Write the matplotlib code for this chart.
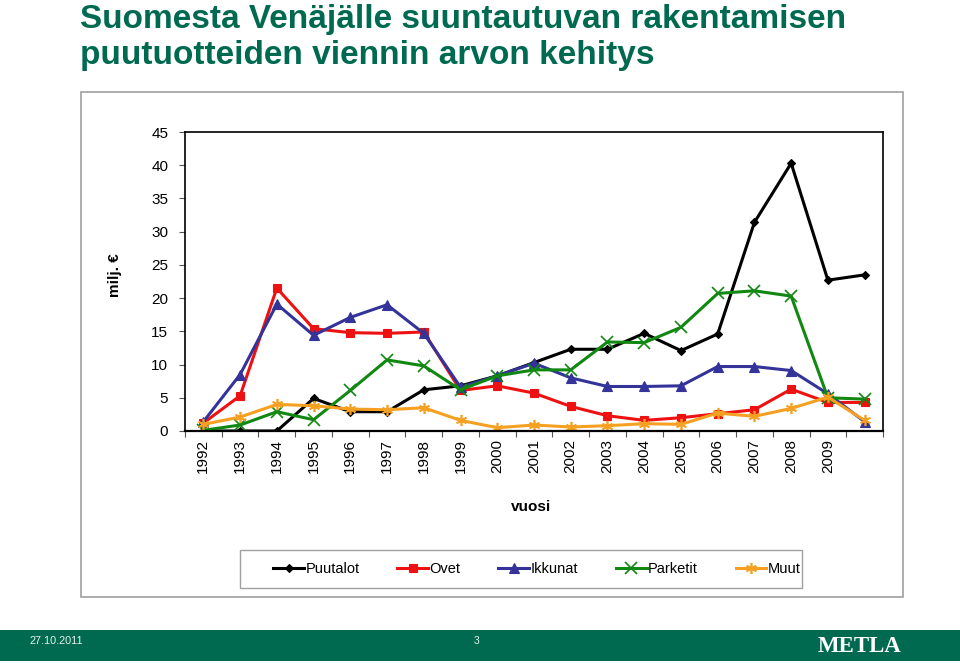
import matplotlib.pyplot as plt
import matplotlib.patches as mpatches
import numpy as np

plt.rcParams['font.family'] = ['Liberation Sans', 'DejaVu Sans']

# --- Data ---
years = ['1992', '1993', '1994', '1995', '1996', '1997', '1998', '1999', '2000',
         '2001', '2002', '2003', '2004', '2005', '2006', '2007', '2008', '2009', '']
puutalot = [0, 0, 0, 4.9, 2.9, 2.9, 6.2, 6.8, 8.3, 10.3, 12.3, 12.3, 14.7, 12.1,
            14.6, 31.4, 40.3, 22.7, 23.5]
ovet = [1.2, 5.3, 21.5, 15.4, 14.8, 14.7, 14.9, 6.1, 6.8, 5.7, 3.7, 2.3, 1.6, 2.0,
        2.6, 3.2, 6.3, 4.3, 4.3]
ikkunat = [1.4, 8.5, 19.1, 14.4, 17.1, 19.0, 14.7, 6.6, 8.3, 10.2, 8.0, 6.7, 6.7,
           6.8, 9.7, 9.7, 9.1, 5.6, 1.4]
parketit = [0.1, 0.9, 2.9, 1.7, 6.1, 10.7, 9.8, 6.2, 8.3, 9.2, 9.2, 13.4, 13.3,
            15.6, 20.7, 21.1, 20.3, 5.0, 4.8]
muut = [1.0, 2.1, 4.0, 3.8, 3.3, 3.2, 3.5, 1.6, 0.5, 0.9, 0.6, 0.8, 1.1, 1.0,
        2.7, 2.2, 3.4, 5.1, 1.6]

series = [
    ('Puutalot', puutalot, 'black', 'D', 4),
    ('Ovet', ovet, '#ee1111', 's', 6),
    ('Ikkunat', ikkunat, '#333399', '^', 7),
    ('Parketit', parketit, '#118811', 'x', 8),
    ('Muut', muut, '#f5a020', (6, 2, 0), 8),
]

W, H = 960, 663
fig = plt.figure(figsize=(W / 100, H / 100), dpi=100)
green = '#006a50'

# title
fig.text(80 / W, 1 - 28 / H, 'Suomesta Venäjälle suuntautuvan rakentamisen',
         color=green, fontsize=24, fontweight='bold', va='baseline', ha='left')
fig.text(80 / W, 1 - 64 / H, 'puutuotteiden viennin arvon kehitys',
         color=green, fontsize=24, fontweight='bold', va='baseline', ha='left')

# outer chart border
fig.patches.append(mpatches.Rectangle((81 / W, 1 - 597 / H), (903 - 81) / W, (597 - 92) / H,
                                      transform=fig.transFigure, fill=False,
                                      edgecolor='#a0a0a0', linewidth=1.2))
# legend border (drawn separately, Excel-like uneven padding)
fig.patches.append(mpatches.Rectangle((240 / W, 1 - 588 / H), (802 - 240) / W, (588 - 550) / H,
                                      transform=fig.transFigure, fill=False,
                                      edgecolor='#a0a0a0', linewidth=1.0))

# footer bar
fig.patches.append(mpatches.Rectangle((0, 2 / H), 1, 31 / H, transform=fig.transFigure,
                                      facecolor=green, edgecolor='none'))
fig.text(30 / W, 1 - 641 / H, '27.10.2011', color='#e6f2ec', fontsize=7.8, va='center')
fig.text(477 / W, 1 - 641 / H, '3', color='#e6f2ec', fontsize=7.5, va='center', ha='center')
fig.text(860 / W, 1 - 647 / H, 'METLA', color='white', fontsize=16.5, fontweight='bold',
         family='Liberation Serif', va='center', ha='center')

# plot area
ax = fig.add_axes([185 / W, 1 - 431 / H, (883 - 185) / W, (431 - 132) / H])
x = np.arange(len(years))
for name, vals, col, mk, ms in series:
    ax.plot(x, vals, color=col, marker=mk, markersize=ms, linewidth=2.2,
            markeredgewidth=1.2 if mk in ('x',) or isinstance(mk, tuple) else 0.8,
            markeredgecolor=col, label=name)

ax.set_xlim(-0.5, len(years) - 0.5)
ax.set_ylim(0, 45)
ax.set_yticks(np.arange(0, 46, 5))
ax.set_xticks(x)
ax.set_xticklabels(years, rotation=90, fontsize=11)
ax.tick_params(axis='x', length=0, pad=6)
ax.set_xticks(np.arange(-0.5, len(years), 1), minor=True)
ax.tick_params(axis='x', which='minor', length=4, direction='out', width=0.8, color='#555555')
ax.tick_params(axis='y', length=4, direction='out', labelsize=11, pad=8, color='#555555')
for s in ax.spines.values():
    s.set_linewidth(1.2)
ax.spines['bottom'].set_linewidth(1.6)

ax.set_ylabel('milj. €', fontsize=11, fontweight='bold', labelpad=0)
ax.yaxis.set_label_coords((122 - 185) / (883 - 185), 0.52)
fig.text(531 / W, 1 - 507 / H, 'vuosi', fontsize=11, fontweight='bold',
         ha='center', va='center')

leg = ax.legend(loc='center', bbox_to_anchor=(537 / W, 1 - 569 / H),
                bbox_transform=fig.transFigure, ncol=5, fontsize=10.5,
                frameon=False, handlelength=2.1, handletextpad=0.1,
                columnspacing=2.6)

fig.savefig('out.png', dpi=100)
